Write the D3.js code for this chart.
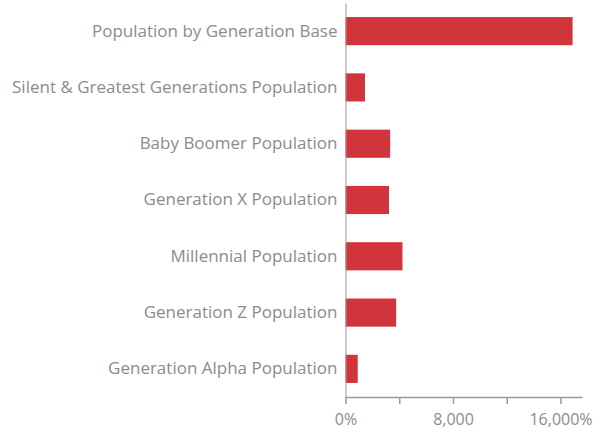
<!DOCTYPE html>
<html>
<head>
<meta charset="utf-8">
<script src="https://cdn.jsdelivr.net/npm/d3@7"></script>
<style>
  body { margin: 0; background: #fff; }
  svg text { font-family: "Open Sans", sans-serif; }
</style>
</head>
<body>
<svg id="chart" width="600" height="432"></svg>
<script>
// categories top to bottom
const categories = [
  'Population by Generation Base',
  'Silent & Greatest Generations Population',
  'Baby Boomer Population',
  'Generation X Population',
  'Millennial Population',
  'Generation Z Population',
  'Generation Alpha Population',
];
// values
const values = [16900, 1450, 3320, 3240, 4240, 3770, 910];
// axis ticks and their labels (only every other one is labelled)
const tickValues = [0, 4000, 8000, 12000, 16000];
const tickLabels = ['0%', '', '8,000', '', '16,000%'];

const svg = d3.select('#chart');
const margin = { top: 3, right: 18, bottom: 35, left: 345.5 };
const width = 600 - margin.left - margin.right;
const height = 432 - margin.top - margin.bottom;

const g = svg.append('g').attr('transform', `translate(${margin.left},${margin.top})`);

const x = d3.scaleLinear().domain([0, 17600]).range([0, width]);
const y = d3.scaleBand().domain(categories).range([0, height])
  .paddingInner(0.5).paddingOuter(0.25);

// bars
g.selectAll('rect.bar')
  .data(categories.map((c, i) => ({ c, v: values[i] })))
  .enter()
  .append('rect')
  .attr('class', 'bar')
  .attr('x', 0)
  .attr('y', (d) => y(d.c))
  .attr('width', (d) => x(d.v))
  .attr('height', y.bandwidth())
  .attr('fill', '#d1343b');

// x axis
const xAxis = g.append('g')
  .attr('transform', `translate(0,${height})`)
  .call(d3.axisBottom(x).tickValues(tickValues)
    .tickFormat((d, i) => tickLabels[i]).tickSize(7).tickSizeOuter(0));
xAxis.select('.domain').attr('stroke', '#999').attr('stroke-width', 1.5);
xAxis.selectAll('.tick line').attr('stroke', '#999').attr('stroke-width', 1.5);
xAxis.selectAll('.tick text')
  .attr('fill', '#8c8c8c')
  .attr('font-size', 16)
  .attr('dy', '1.15em');

// y axis
const yAxis = g.append('g')
  .call(d3.axisLeft(y).tickSize(0).tickPadding(8));
yAxis.select('.domain').attr('stroke', '#999').attr('stroke-width', 1);
yAxis.selectAll('.tick text')
  .attr('fill', '#8c8c8c')
  .attr('font-size', 17);
</script>
</body>
</html>
